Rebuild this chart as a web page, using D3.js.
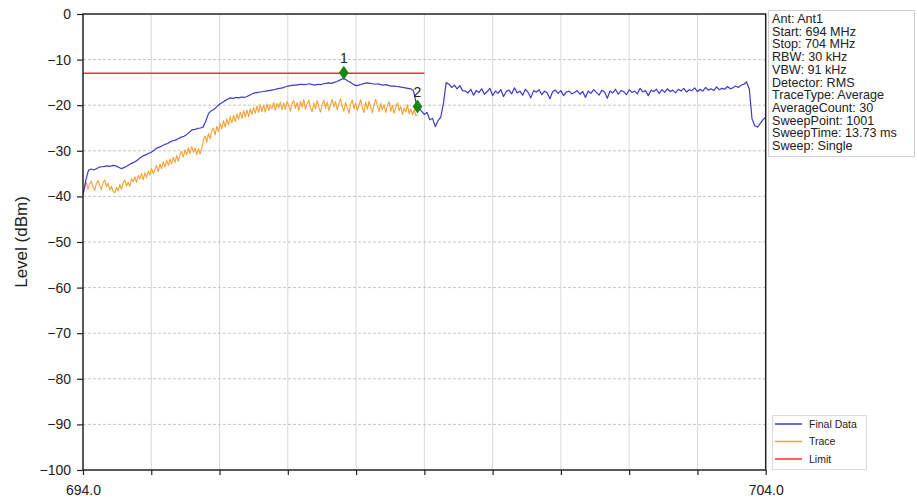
<!DOCTYPE html>
<html><head><meta charset="utf-8">
<script src="https://cdn.jsdelivr.net/npm/d3@7"></script>
<style>
body{margin:0;background:#fff;}
svg{display:block;font-family:"Liberation Sans",Arial,sans-serif;}
</style>
</head><body><svg id="chart" width="917" height="502"></svg>
<script>
// ---------- data ----------
const freqStart = 694, freqStop = 704;     // Final Data sweep span (MHz)
const traceStart = 694, traceStop = 698.9; // Trace span (MHz)

const finalData = [
-39.7,-36.5,-34.3,-34.0,-34.2,-33.9,-33.6,-33.5,-33.4,-33.3,
-33.4,-33.2,-33.3,-33.6,-33.9,-33.7,-33.4,-33.0,-32.7,-32.4,
-32.0,-31.5,-31.1,-30.9,-30.6,-30.3,-29.9,-29.4,-29.2,-28.9,
-28.6,-28.4,-28.0,-27.8,-27.6,-27.3,-27.0,-26.8,-26.4,-25.9,
-25.4,-25.3,-25.1,-25.0,-24.8,-23.4,-21.8,-21.2,-20.9,-20.3,
-19.8,-19.4,-19.0,-18.7,-18.4,-18.5,-18.3,-18.4,-18.2,-18.3,
-18.1,-17.8,-17.5,-17.3,-17.2,-17.1,-17.0,-16.9,-16.8,-16.7,
-16.6,-16.4,-16.3,-16.2,-16.0,-15.8,-15.7,-15.6,-15.6,-15.5,
-15.4,-15.5,-15.4,-15.3,-15.5,-15.6,-15.4,-15.5,-15.3,-15.2,
-15.1,-15.2,-15.0,-14.8,-14.5,-14.2,-14.3,-14.7,-15.0,-15.4,
-15.7,-15.6,-15.4,-15.2,-15.1,-15.2,-15.3,-15.4,-15.3,-15.5,
-15.6,-15.5,-15.7,-15.8,-15.8,-15.9,-16.0,-16.1,-16.2,-16.3,
-16.4,-16.8,-19.5,-20.6,-21.3,-22.0,-21.6,-23.2,-22.9,-24.7,
-23.4,-22.6,-19.5,-15.0,-15.4,-16.1,-15.6,-16.4,-15.7,-16.8,
-16.9,-17.3,-16.5,-17.8,-16.8,-17.2,-16.4,-17.6,-17.0,-16.3,
-17.9,-16.9,-17.4,-16.6,-18.1,-17.0,-16.7,-17.5,-16.2,-17.3,
-16.9,-17.8,-16.5,-17.2,-18.4,-16.8,-17.1,-16.6,-17.7,-16.9,
-17.3,-18.6,-17.0,-16.7,-17.4,-16.8,-17.9,-17.1,-16.9,-17.5,
-17.2,-16.8,-17.6,-17.0,-18.3,-16.9,-17.4,-16.6,-17.2,-17.8,
-16.7,-17.1,-18.5,-16.9,-17.3,-16.5,-17.6,-16.8,-17.0,-17.7,
-16.6,-17.2,-16.9,-17.5,-16.3,-17.1,-16.8,-17.9,-16.7,-17.0,
-16.5,-17.4,-16.6,-17.2,-16.4,-17.0,-16.7,-17.3,-16.5,-16.9,
-16.3,-17.1,-16.6,-16.8,-16.2,-17.0,-16.5,-16.9,-16.1,-16.7,
-16.4,-16.8,-16.0,-16.6,-16.3,-16.5,-15.9,-16.4,-16.2,-15.8,
-16.1,-15.6,-15.4,-14.9,-16.5,-23.0,-24.5,-24.8,-24.0,-23.2,
-22.6
];

const traceData = [
-39.7,-38.2,-36.9,-38.4,-37.3,-36.6,-38.0,-38.7,-37.2,-36.5,
-37.6,-38.5,-37.0,-36.4,-37.9,-37.1,-38.6,-37.8,-38.9,-39.2,
-38.0,-38.8,-37.4,-38.5,-37.0,-36.4,-37.7,-36.9,-37.8,-36.1,
-36.8,-35.7,-36.9,-35.4,-36.2,-35.0,-36.4,-34.8,-35.9,-34.5,
-35.3,-33.8,-35.0,-34.1,-33.2,-34.6,-32.9,-33.9,-32.4,-33.6,
-32.1,-33.2,-31.8,-32.9,-31.4,-32.6,-31.0,-32.3,-30.8,-30.1,
-31.4,-29.8,-30.9,-29.3,-30.6,-29.1,-30.3,-29.4,-30.8,-29.6,
-30.7,-29.5,-27.6,-26.8,-28.1,-26.2,-27.4,-25.6,-25.0,-26.5,
-24.6,-25.8,-24.0,-25.2,-23.4,-24.8,-23.0,-24.3,-22.5,-23.9,
-22.2,-23.6,-21.9,-23.1,-21.5,-22.9,-21.2,-22.6,-21.0,-22.5,
-20.8,-22.0,-20.5,-21.8,-20.2,-21.6,-19.9,-21.4,-20.0,-21.5,
-19.7,-21.2,-19.9,-20.8,-19.4,-21.1,-19.6,-20.6,-19.3,-21.0,
-19.5,-20.9,-19.2,-20.2,-21.3,-19.6,-19.0,-20.7,-19.4,-21.2,
-19.1,-20.4,-18.8,-20.9,-19.7,-18.9,-20.6,-21.4,-19.5,-20.8,
-19.0,-20.5,-21.5,-19.8,-18.9,-20.7,-19.3,-21.2,-20.0,-18.7,
-20.4,-19.2,-21.0,-19.6,-18.6,-20.3,-21.3,-19.4,-20.6,-21.8,
-19.7,-18.9,-20.8,-19.5,-21.2,-19.9,-18.8,-20.5,-21.6,-19.3,
-20.9,-19.1,-20.4,-21.7,-19.8,-18.7,-20.2,-21.4,-19.6,-21.0,
-19.9,-21.6,-20.1,-19.2,-21.3,-20.0,-21.8,-20.4,-19.5,-21.2,
-20.3,-22.0,-20.6,-21.5,-19.9,-21.9,-20.8,-22.1,-21.0,-22.3,
-22.1
];

const limitFreqs = [694, 699];
const limitLevels = [-13, -13];

const markerLabels = ["1", "2"];
const markerFreqs = [697.82, 698.9];
const markerLevels = [-12.9, -20.3];

const yTicks = [0, -10, -20, -30, -40, -50, -60, -70, -80, -90, -100];
const xTicks = [694, 695, 696, 697, 698, 699, 700, 701, 702, 703, 704];
const xTickLabels = ["694.0", "", "", "", "", "", "", "", "", "", "704.0"];

const yLabel = "Level (dBm)";
const infoLines = ["Ant: Ant1", "Start: 694 MHz", "Stop: 704 MHz", "RBW: 30 kHz", "VBW: 91 kHz",
  "Detector: RMS", "TraceType: Average", "AverageCount: 30", "SweepPoint: 1001",
  "SweepTime: 13.73 ms", "Sweep: Single"];
const legendLabels = ["Final Data", "Trace", "Limit"];
const legendColors = ["#3b3bcc", "#f5a035", "#ff2a2a"];

// ---------- layout ----------
const svg = d3.select("#chart");
const L = 83, R = 765.7, T = 14, B = 470;
const x = d3.scaleLinear().domain([freqStart, freqStop]).range([L, R]);
const y = d3.scaleLinear().domain([-100, 0]).range([B, T]);

svg.append("rect").attr("width", 917).attr("height", 502).attr("fill", "#fff");

// grid
svg.append("g").selectAll("line").data(xTicks.slice(1, -1)).join("line")
  .attr("x1", d => x(d)).attr("x2", d => x(d)).attr("y1", T).attr("y2", B)
  .attr("stroke", "#d9d9d9").attr("stroke-width", 1);
svg.append("g").selectAll("line").data(yTicks.slice(1, -1)).join("line")
  .attr("x1", L).attr("x2", R).attr("y1", d => y(d)).attr("y2", d => y(d))
  .attr("stroke", "#c4c4c4").attr("stroke-width", 1).attr("stroke-dasharray", "3,2");

// clip
svg.append("clipPath").attr("id", "clip").append("rect")
  .attr("x", L).attr("y", T).attr("width", R - L).attr("height", B - T);

const gPlot = svg.append("g").attr("clip-path", "url(#clip)");

// series
const fIdx = d3.scaleLinear().domain([0, finalData.length - 1]).range([freqStart, freqStop]);
const tIdx = d3.scaleLinear().domain([0, traceData.length - 1]).range([traceStart, traceStop]);
const line = d3.line().x(d => x(d[0])).y(d => y(d[1]));

gPlot.append("path")
  .datum(limitFreqs.map((f, i) => [f, limitLevels[i]]))
  .attr("d", line).attr("fill", "none").attr("stroke", legendColors[2]).attr("stroke-width", 1.4);

gPlot.append("path")
  .datum(traceData.map((v, i) => [tIdx(i), v]))
  .attr("d", line).attr("fill", "none").attr("stroke", legendColors[1]).attr("stroke-width", 1.1)
  .attr("stroke-linejoin", "round");

gPlot.append("path")
  .datum(finalData.map((v, i) => [fIdx(i), v]))
  .attr("d", line).attr("fill", "none").attr("stroke", legendColors[0]).attr("stroke-width", 1.2)
  .attr("stroke-linejoin", "round");

// markers
const mk = svg.append("g");
markerFreqs.forEach((f, i) => {
  const cx = x(f), cy = y(markerLevels[i]);
  mk.append("path")
    .attr("d", `M${cx},${cy - 6.5}L${cx + 4.5},${cy}L${cx},${cy + 6.5}L${cx - 4.5},${cy}Z`)
    .attr("fill", "#148a14").attr("stroke", "#0e6e0e").attr("stroke-width", 0.6);
  mk.append("text").attr("x", cx).attr("y", cy - 9.5).attr("text-anchor", "middle")
    .attr("font-size", 14).attr("fill", "#222").text(markerLabels[i]);
});

// axes
const yAxis = svg.append("g").attr("transform", `translate(${L},0)`)
  .call(d3.axisLeft(y).tickValues(yTicks).tickSize(6).tickPadding(6));
const xAxis = svg.append("g").attr("transform", `translate(0,${B})`)
  .call(d3.axisBottom(x).tickValues(xTicks).tickSize(5).tickPadding(10)
    .tickFormat((d, i) => xTickLabels[i]));
[yAxis, xAxis].forEach(g => {
  g.select(".domain").remove();
  g.selectAll("line").attr("stroke", "#222").attr("stroke-width", 1.2);
  g.selectAll("text").attr("font-size", 14).attr("fill", "#222")
    .attr("font-family", "'Liberation Sans', Arial, sans-serif");
});

// frame
svg.append("rect").attr("x", L).attr("y", T).attr("width", R - L).attr("height", B - T)
  .attr("fill", "none").attr("stroke", "#222").attr("stroke-width", 1.5);

// y label
svg.append("text").attr("transform", `translate(27,${(T + B) / 2}) rotate(-90)`)
  .attr("text-anchor", "middle").attr("font-size", 17).attr("fill", "#222").text(yLabel);

// info box
const info = svg.append("g");
info.append("rect").attr("x", 768.5).attr("y", 10.5).attr("width", 146).attr("height", 146)
  .attr("fill", "#fff").attr("stroke", "#cfcfcf");
info.selectAll("text").data(infoLines).join("text")
  .attr("x", 772).attr("y", (d, i) => 23 + i * 12.7)
  .attr("font-size", 12.6).attr("fill", "#222").text(d => d);

// legend
const lg = svg.append("g");
lg.append("rect").attr("x", 772.5).attr("y", 415.5).attr("width", 94).attr("height", 54)
  .attr("fill", "#fff").attr("stroke", "#dcdcdc");
legendLabels.forEach((lab, i) => {
  const ly = 424 + i * 17.5;
  lg.append("line").attr("x1", 775).attr("x2", 802).attr("y1", ly).attr("y2", ly)
    .attr("stroke", legendColors[i]).attr("stroke-width", 1.5);
  lg.append("text").attr("x", 809).attr("y", ly + 3.8).attr("font-size", 10.5)
    .attr("fill", "#222").text(lab);
});
</script>
</body></html>
